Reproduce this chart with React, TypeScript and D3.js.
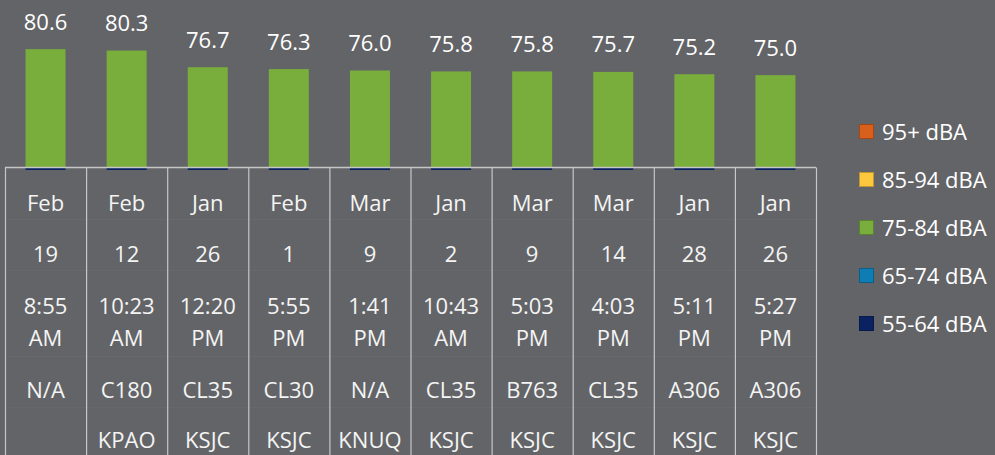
import React from "react";
import * as d3 from "d3";

const months = ["Feb", "Feb", "Jan", "Feb", "Mar", "Jan", "Mar", "Mar", "Jan", "Jan"];
const days = ["19", "12", "26", "1", "9", "2", "9", "14", "28", "26"];
const times = ["8:55", "10:23", "12:20", "5:55", "1:41", "10:43", "5:03", "4:03", "5:11", "5:27"];
const meridiem = ["AM", "AM", "PM", "PM", "PM", "AM", "PM", "PM", "PM", "PM"];
const aircraft = ["N/A", "C180", "CL35", "CL30", "N/A", "CL35", "B763", "CL35", "A306", "A306"];
const airports = ["", "KPAO", "KSJC", "KSJC", "KNUQ", "KSJC", "KSJC", "KSJC", "KSJC", "KSJC"];
const values = [80.6, 80.3, 76.7, 76.3, 76.0, 75.8, 75.8, 75.7, 75.2, 75.0];
const legendLabels = ["95+ dBA", "85-94 dBA", "75-84 dBA", "65-74 dBA", "55-64 dBA"];
const legendColors = ["#d95f1c", "#fec83e", "#79ad3c", "#0e7db3", "#0b2262"];

export default function App() {
  const W = 995, H = 455;
  const bg = "#636467";
  const keys = values.map((_, i) => String(i));
  const x = d3.scaleBand().domain(keys).range([5, 816]).paddingInner(0).paddingOuter(0);
  const y = d3.scaleLinear().domain([55, 90]).range([168, 5.5]);
  const bw = 40;
  const font = "'Open Sans', sans-serif";
  const rowLines = [219, 270, 356, 407];
  const tableTop = 167.5;

  return (
    <div style={{ position: "absolute", left: 0, top: 0, width: W, height: H, background: bg }}>
      <svg width={W} height={H} style={{ display: "block" }}>
        <rect x={0} y={0} width={W} height={H} fill={bg} />
        {values.map((v, i) => {
          const cx = (x(keys[i]) as number) + x.bandwidth() / 2;
          return (
            <g key={"b" + i}>
              <rect x={cx - bw / 2} y={y(v)} width={bw} height={y(55) - y(v)} fill="#79ad3c" />
              <rect x={cx - bw / 2} y={y(55)} width={bw} height={2} fill="#0b2262" />
              <text x={cx} y={y(v) - 19.5} textAnchor="middle" fill="#ffffff" fontFamily={font} fontSize={22}>
                {v.toFixed(1)}
              </text>
            </g>
          );
        })}
        {rowLines.map((ly, i) => (
          <line key={"r" + i} x1={5} x2={816} y1={ly + 0.5} y2={ly + 0.5} stroke="#67686b" strokeWidth={1} />
        ))}
        <line x1={5} x2={816} y1={tableTop} y2={tableTop} stroke="#c6c6c6" strokeWidth={1.5} />
        {[...keys.map((k) => x(k) as number), 816].map((lx, i) => (
          <line key={"v" + i} x1={lx + 0.5} x2={lx + 0.5} y1={tableTop} y2={H} stroke="#c6c6c6" strokeWidth={1.2} />
        ))}
        {values.map((_, i) => {
          const cx = (x(keys[i]) as number) + x.bandwidth() / 2;
          const rows: [string, number][] = [
            [months[i], 211],
            [days[i], 262],
            [times[i], 314],
            [meridiem[i], 346],
            [aircraft[i], 398],
            [airports[i], 448],
          ];
          return (
            <g key={"t" + i}>
              {rows.map(([t, by], j) => (
                <text key={j} x={cx} y={by} textAnchor="middle" fill="#f4f4f4" fontFamily={font} fontSize={22}>
                  {t}
                </text>
              ))}
            </g>
          );
        })}
        {legendLabels.map((l, i) => {
          const cy = 132 + i * 48;
          return (
            <g key={"l" + i}>
              <rect x={859.5} y={cy - 7.5} width={14} height={14} fill={legendColors[i]} stroke={d3.color(legendColors[i])!.darker(0.8).toString()} strokeWidth={1} />
              <text x={882} y={cy + 8} fill="#ffffff" fontFamily={font} fontSize={22}>
                {l}
              </text>
            </g>
          );
        })}
      </svg>
    </div>
  );
}
